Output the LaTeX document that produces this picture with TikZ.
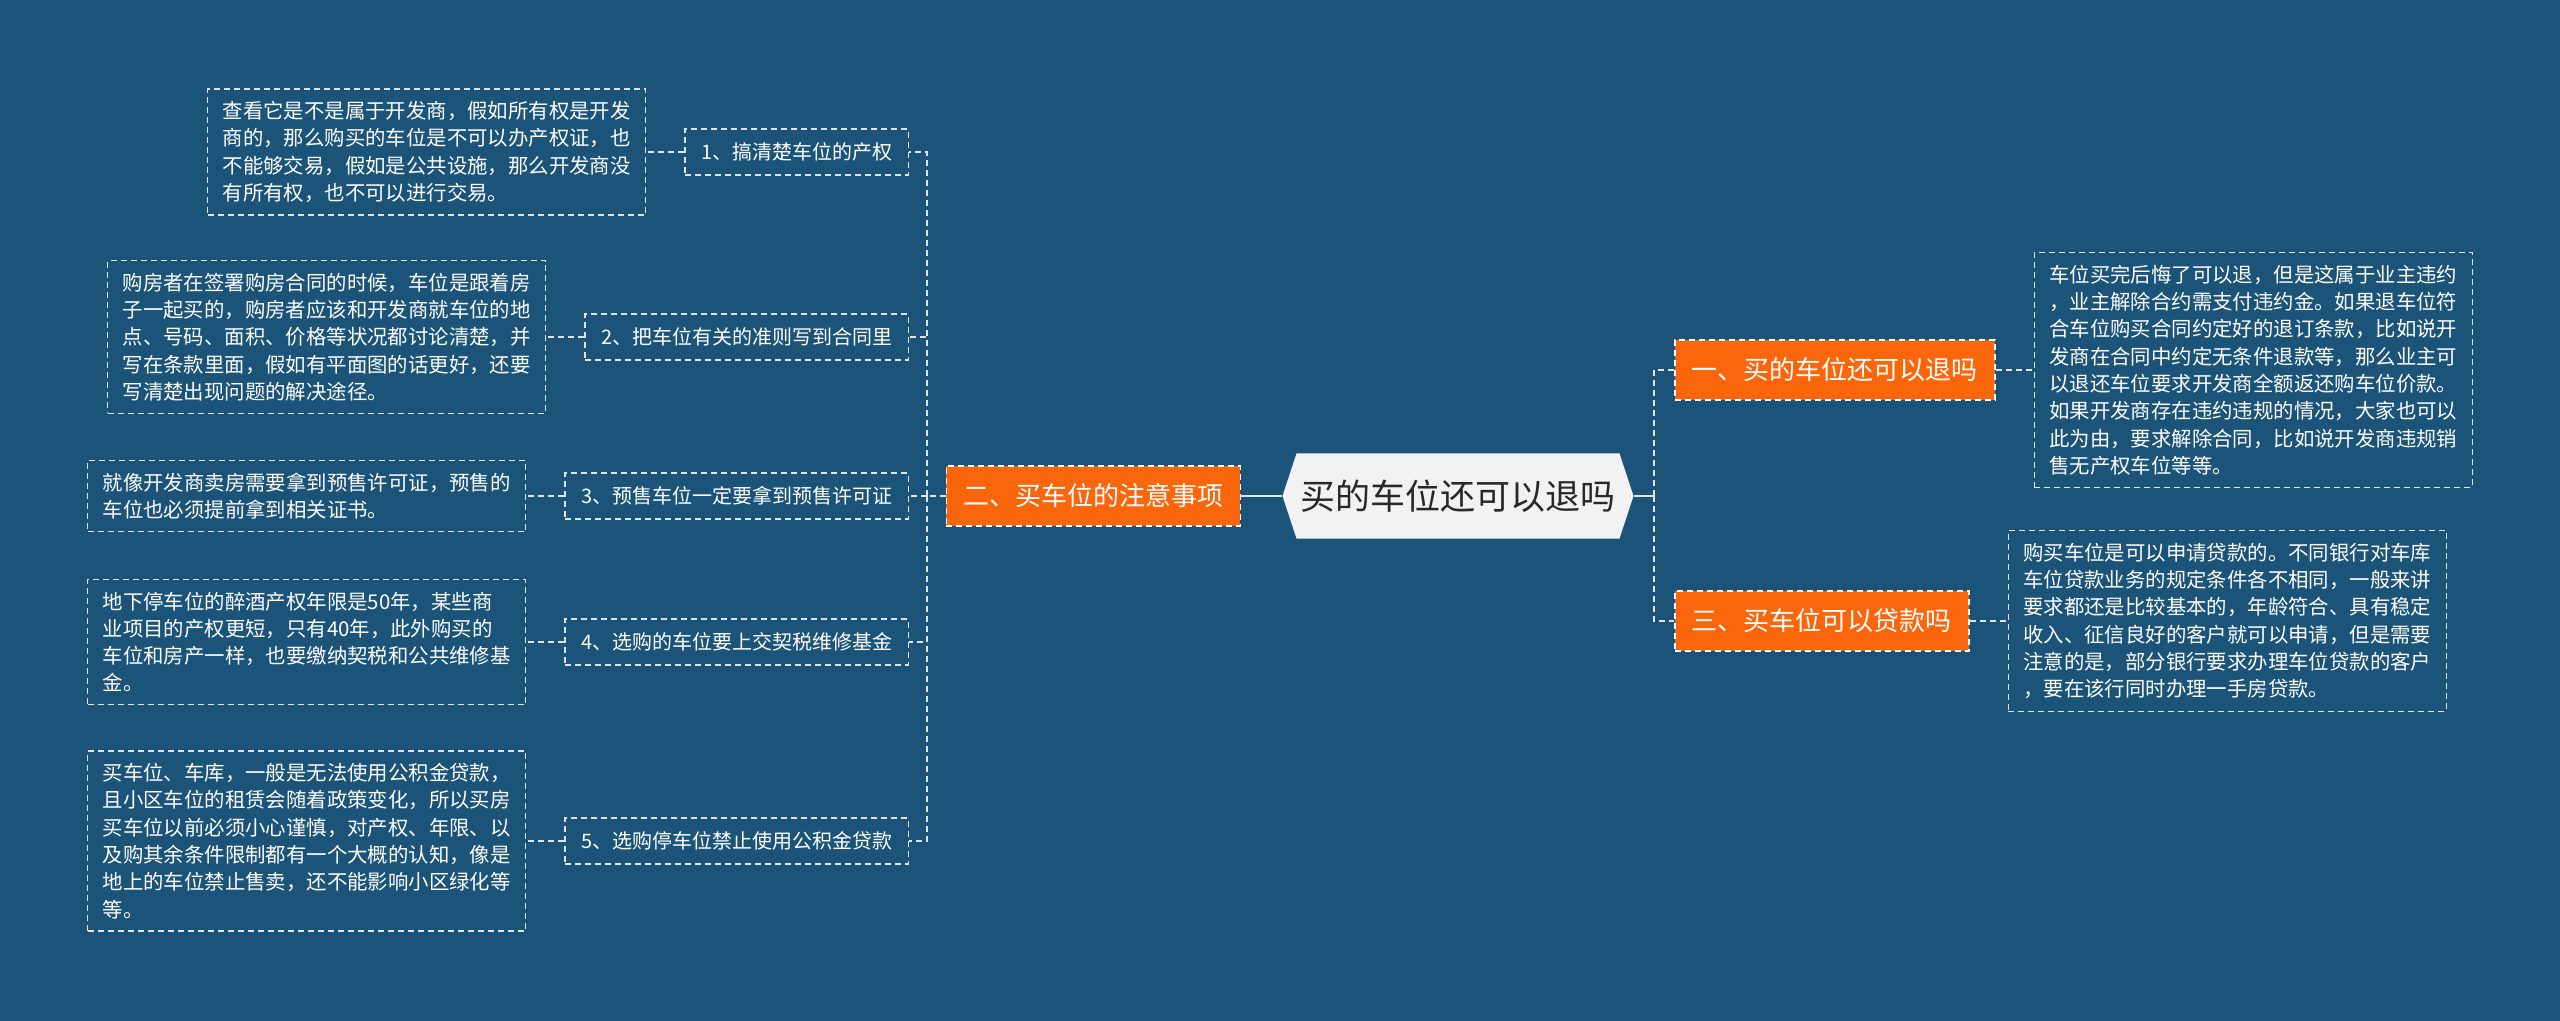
\documentclass[tikz,border=0pt]{standalone}
\usepackage{fontspec}
\setmainfont{Noto Sans CJK SC}
\usetikzlibrary{positioning}
\definecolor{mapbg}{RGB}{27,84,120}
\definecolor{maporange}{RGB}{250,102,12}
\definecolor{rootgray}{RGB}{242,242,242}
\definecolor{roottext}{RGB}{40,40,40}
\definecolor{linkgray}{RGB}{222,228,233}

\begin{document}
\begin{tikzpicture}[x=0.5pt,y=-0.5pt,node distance=19pt,
  rootbox/.style={text=roottext,font=\fontsize{17.5}{20}\selectfont,minimum width=175.5pt,minimum height=42.5pt,inner sep=0pt},
  branch/.style={draw=white,line width=0.75pt,dash pattern=on 3pt off 2pt,fill=maporange,text=white,
    font=\fontsize{13}{15}\selectfont,minimum height=30pt,inner xsep=8.5pt},
  item/.style={draw=linkgray,line width=0.75pt,dash pattern=on 3pt off 2pt,text=white,
    font=\fontsize{10}{12}\selectfont,minimum height=23pt,inner xsep=8pt},
  note/.style={draw=linkgray,line width=0.75pt,dash pattern=on 3pt off 2pt,text=white,align=left,
    text width=204pt,font=\fontsize{10.2}{13.65}\selectfont,inner xsep=7.5pt,inner ysep=6.2pt},
  link/.style={draw=linkgray,line width=0.75pt,dash pattern=on 3pt off 2pt},
  trunk/.style={draw=linkgray,line width=1.2pt}]
\useasboundingbox (0,0) rectangle (2560,1021);
\fill[mapbg] (0,0) rectangle (2560,1021);

% centre topic: hexagon behind the text
\fill[rootgray,shift={(1458,496)}] (-175.5,0) -- (-161.5,-42.5) -- (161.5,-42.5) -- (175.5,0)
  -- (161.5,42.5) -- (-161.5,42.5) -- cycle;
\node[rootbox] (root) at (1458,496) {买的车位还可以退吗};

% left side
\node[branch,left=20.5pt of root] (b2) {二、买车位的注意事项};
\node[item,anchor=east] (it1) at (909,152) {1、搞清楚车位的产权};
\node[item,anchor=east] (it2) at (909,337) {2、把车位有关的准则写到合同里};
\node[item,anchor=east] (it3) at (909,496) {3、预售车位一定要拿到预售许可证};
\node[item,anchor=east] (it4) at (909,642) {4、选购的车位要上交契税维修基金};
\node[item,anchor=east] (it5) at (909,841) {5、选购停车位禁止使用公积金贷款};
\node[note,left=of it1] (nt1) {查看它是不是属于开发商，假如所有权是开发\\商的，那么购买的车位是不可以办产权证，也\\不能够交易，假如是公共设施，那么开发商没\\有所有权，也不可以进行交易。};
\node[note,left=of it2] (nt2) {购房者在签署购房合同的时候，车位是跟着房\\子一起买的，购房者应该和开发商就车位的地\\点、号码、面积、价格等状况都讨论清楚，并\\写在条款里面，假如有平面图的话更好，还要\\写清楚出现问题的解决途径。};
\node[note,left=of it3] (nt3) {就像开发商卖房需要拿到预售许可证，预售的\\车位也必须提前拿到相关证书。};
\node[note,left=of it4] (nt4) {地下停车位的醉酒产权年限是50年，某些商\\业项目的产权更短，只有40年，此外购买的\\车位和房产一样，也要缴纳契税和公共维修基\\金。};
\node[note,left=of it5] (nt5) {买车位、车库，一般是无法使用公积金贷款，\\且小区车位的租赁会随着政策变化，所以买房\\买车位以前必须小心谨慎，对产权、年限、以\\及购其余条件限制都有一个大概的认知，像是\\地上的车位禁止售卖，还不能影响小区绿化等\\等。};

% right side
\node[branch,anchor=west] (b1) at (1674,370) {一、买的车位还可以退吗};
\node[branch,anchor=west] (b3) at (1674,621) {三、买车位可以贷款吗};
\node[note,right=of b1] (nr1) {车位买完后悔了可以退，但是这属于业主违约\\，业主解除合约需支付违约金。如果退车位符\\合车位购买合同约定好的退订条款，比如说开\\发商在合同中约定无条件退款等，那么业主可\\以退还车位要求开发商全额返还购车位价款。\\如果开发商存在违约违规的情况，大家也可以\\此为由，要求解除合同，比如说开发商违规销\\售无产权车位等等。};
\node[note,right=of b3] (nr3) {购买车位是可以申请贷款的。不同银行对车库\\车位贷款业务的规定条件各不相同，一般来讲\\要求都还是比较基本的，年龄符合、具有稳定\\收入、征信良好的客户就可以申请，但是需要\\注意的是，部分银行要求办理车位贷款的客户\\，要在该行同时办理一手房贷款。};

% connectors
\coordinate (lfork) at (927,496);
\coordinate (rfork) at (1654,496);
\draw[trunk] (root.west) -- (b2.east);
\draw[trunk] (root.east) -- (rfork);
\draw[link] (b2.west) -- (lfork);
\foreach \i in {1,...,5} {
  \draw[link] (lfork) |- (it\i.east);
  \draw[link] (it\i.west) -- (nt\i.east);
}
\draw[link] (rfork) |- (b1.west);
\draw[link] (rfork) |- (b3.west);
\draw[link] (b1.east) -- (nr1.west);
\draw[link] (b3.east) -- (nr3.west);
\end{tikzpicture}
\end{document}
